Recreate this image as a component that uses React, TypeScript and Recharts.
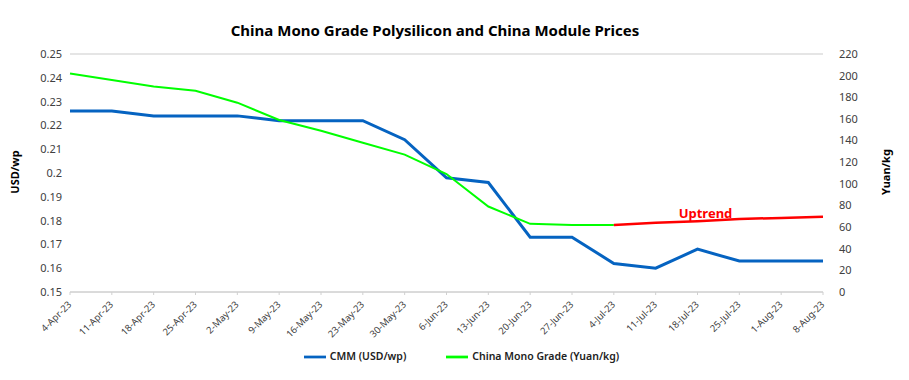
import { LineChart, Line, XAxis, YAxis, CartesianGrid, Legend, ReferenceDot } from "recharts";

const dates = [
  "4-Apr-23", "11-Apr-23", "18-Apr-23", "25-Apr-23", "2-May-23", "9-May-23", "16-May-23",
  "23-May-23", "30-May-23", "6-Jun-23", "13-Jun-23", "20-Jun-23", "27-Jun-23", "4-Jul-23",
  "11-Jul-23", "18-Jul-23", "25-Jul-23", "1-Aug-23", "8-Aug-23",
];
const cmm = [
  0.226, 0.226, 0.224, 0.224, 0.224, 0.222, 0.222, 0.222, 0.214, 0.198,
  0.196, 0.173, 0.173, 0.162, 0.16, 0.168, 0.163, 0.163, 0.163,
];
const monoGrade = [
  202, 196, 190, 186, 175, 159, 149, 138, 127, 109,
  79, 63, 62, 62, null, null, null, null, null,
];
const uptrend = [
  null, null, null, null, null, null, null, null, null, null,
  null, null, null, 62, 64, 65.5, 67.5, 68.5, 69.5,
];
const leftTicks = [0.15, 0.16, 0.17, 0.18, 0.19, 0.2, 0.21, 0.22, 0.23, 0.24, 0.25];
const rightTicks = [0, 20, 40, 60, 80, 100, 120, 140, 160, 180, 200, 220];

const data = dates.map((date, i) => ({
  date,
  cmm: cmm[i],
  mono: monoGrade[i],
  up: uptrend[i],
}));

const font = "'Noto Sans', sans-serif";

// rotated date labels, end anchored at the tick
const DateTick = ({ x, y, payload }: any) => (
  <g transform={`translate(${x},${y + 6})`}>
    <text
      textAnchor="end"
      transform="rotate(-45)"
      fontSize={9.5}
      fontFamily={font}
      fill="#404040"
      dy={3}
    >
      {payload.value}
    </text>
  </g>
);

export default function App() {
  return (
    <div style={{ position: "absolute", left: 0, top: 0, width: 909, height: 380, background: "#fff", fontFamily: font }}>
      <div
        style={{
          position: "absolute", top: 20, left: 0, width: 870, textAlign: "center",
          fontSize: 15, fontWeight: 700, color: "#000",
        }}
      >
        China Mono Grade Polysilicon and China Module Prices
      </div>
      <div
        style={{
          position: "absolute", left: 14, top: 172, transform: "translate(-50%, -50%) rotate(-90deg)",
          fontSize: 11, fontWeight: 700, color: "#000", whiteSpace: "nowrap",
        }}
      >
        USD/wp
      </div>
      <div
        style={{
          position: "absolute", left: 885, top: 172, transform: "translate(-50%, -50%) rotate(-90deg)",
          fontSize: 11, fontWeight: 700, color: "#000", whiteSpace: "nowrap",
        }}
      >
        Yuan/kg
      </div>
      <LineChart width={909} height={380} data={data} margin={{ top: 54, right: 36, left: 20, bottom: 38 }}>
        <CartesianGrid vertical={false} stroke="#dcdcdc" strokeWidth={1.5} />
        <XAxis
          dataKey="date"
          scale="point"
          padding={{ left: 0, right: 0 }}
          interval={0}
          height={50}
          tick={<DateTick />}
          tickLine={{ stroke: "#d0d0d0" }}
          tickSize={3}
          axisLine={{ stroke: "#d0d0d0" }}
        />
        <YAxis
          yAxisId="left"
          width={50}
          domain={[0.15, 0.25]}
          ticks={leftTicks}
          axisLine={false}
          tickLine={false}
          tick={{ fontSize: 11, fill: "#404040", fontFamily: font }}
        />
        <YAxis
          yAxisId="right"
          orientation="right"
          width={50}
          domain={[0, 220]}
          ticks={rightTicks}
          axisLine={false}
          tickLine={false}
          tickMargin={10}
          tick={{ fontSize: 11, fill: "#404040", fontFamily: font, textAnchor: "start" }}
        />
        <Legend
          layout="horizontal"
          verticalAlign="middle"
          align="center"
          wrapperStyle={{ top: 346, left: 12, width: 909, fontSize: 10.5, fontWeight: 600 }}
          iconType="plainline"
          iconSize={22}
          formatter={(value, _entry, index) => (
            <span style={{ color: "#222", marginRight: index === 0 ? 30 : 0 }}>{value}</span>
          )}
        />
        <Line
          yAxisId="left"
          dataKey="cmm"
          name="CMM (USD/wp)"
          stroke="#0563C1"
          strokeWidth={3}
          dot={false}
          isAnimationActive={false}
        />
        <Line
          yAxisId="right"
          dataKey="mono"
          name="China Mono Grade (Yuan/kg)"
          stroke="#00FF00"
          strokeWidth={2}
          dot={false}
          isAnimationActive={false}
        />
        <Line
          yAxisId="right"
          dataKey="up"
          name="Uptrend"
          legendType="none"
          stroke="#FF0000"
          strokeWidth={2.5}
          dot={false}
          isAnimationActive={false}
        />
        <ReferenceDot
          yAxisId="right"
          x="18-Jul-23"
          y={73}
          r={0}
          fill="none"
          stroke="none"
          label={{ value: "Uptrend", fill: "#FF0000", fontSize: 13, fontWeight: 700, fontFamily: font, dx: 8 }}
        />
      </LineChart>
    </div>
  );
}
